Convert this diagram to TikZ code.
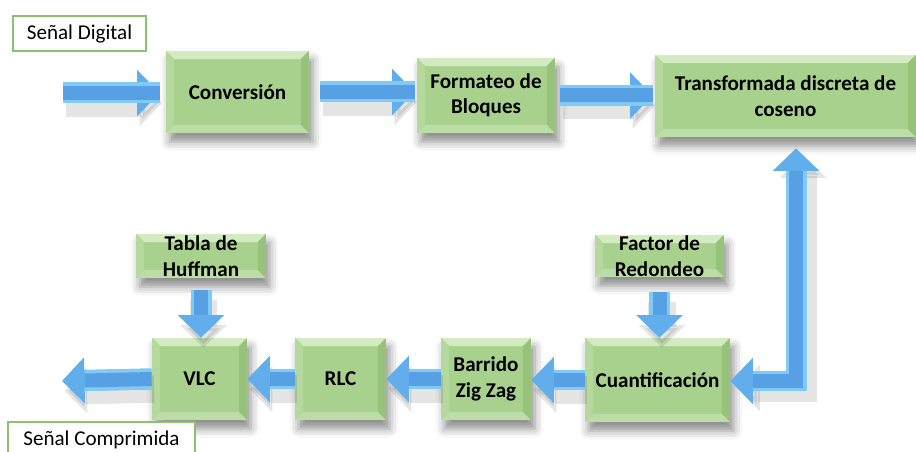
\documentclass[tikz,border=0pt]{standalone}
\usepackage{fontspec}
\setmainfont{Carlito}
\usetikzlibrary{arrows.meta,shadows.blur}

\definecolor{verdebloque}{HTML}{A9D18E}
\definecolor{biselsup}{HTML}{D3EBC0}
\definecolor{biselinf}{HTML}{BCDDA5}
\definecolor{biselizq}{HTML}{B5D99C}
\definecolor{biselder}{HTML}{96C27A}
\definecolor{verdeborde}{HTML}{8CC26C}
\definecolor{azulflecha}{HTML}{62AEEC}
\definecolor{azuloscuro}{HTML}{57A0E4}
\definecolor{azulclaro}{HTML}{80CBF6}

\newcommand{\anchobisel}{0.16cm}
\newcommand{\bisel}{%
  \path (path picture bounding box.north west) coordinate (bNW)
        (path picture bounding box.north east) coordinate (bNE)
        (path picture bounding box.south west) coordinate (bSW)
        (path picture bounding box.south east) coordinate (bSE);
  \fill[biselsup] (bNW) -- (bNE) -- ([shift={(-\anchobisel,-\anchobisel)}]bNE) -- ([shift={(\anchobisel,-\anchobisel)}]bNW) -- cycle;
  \fill[biselinf] (bSW) -- (bSE) -- ([shift={(-\anchobisel,\anchobisel)}]bSE) -- ([shift={(\anchobisel,\anchobisel)}]bSW) -- cycle;
  \fill[biselizq] (bNW) -- (bSW) -- ([shift={(\anchobisel,\anchobisel)}]bSW) -- ([shift={(\anchobisel,-\anchobisel)}]bNW) -- cycle;
  \fill[biselder] (bNE) -- (bSE) -- ([shift={(-\anchobisel,\anchobisel)}]bSE) -- ([shift={(-\anchobisel,-\anchobisel)}]bNE) -- cycle;
}

\tikzset{
  bloque/.style={rectangle, fill=verdebloque, inner sep=0pt, align=center,
    font=\fontsize{12}{14.5}\selectfont\bfseries,
    blur shadow={shadow xshift=2pt, shadow yshift=-5pt, shadow blur radius=5pt, shadow opacity=45},
    path picture={\bisel}},
  etiqueta/.style={rectangle, draw=verdeborde, line width=0.8pt, fill=white, inner sep=0pt,
    font=\fontsize{12}{14}\selectfont},
  flecha/.style={line width=0.42cm, draw=azulflecha, -{Triangle[width=0.9cm,length=0.45cm]}},
  brillo/.style={line width=0.07cm, draw=azulclaro, double=azuloscuro, double distance=0.28cm, shorten >=0.45cm},
  sombra/.style={draw=black, opacity=0.1},
}

% une dos nodos con una flecha gruesa
\newcommand{\conecta}[3][]{%
  \draw[flecha,sombra,line width=0.55cm,transform canvas={shift={(0.05cm,-0.2cm)}},#1] #2 -- #3;
  \draw[flecha,#1] #2 -- #3;
  \draw[brillo,#1] #2 -- #3;
}

\begin{document}
\begin{tikzpicture}[x=0.02cm,y=-0.02cm]
  \useasboundingbox (0,0) rectangle (916,452);

  \node[etiqueta, minimum width=2.66cm, minimum height=0.7cm] (sdig) at (79.5,33.5) {Señal Digital};

  \node[bloque, minimum width=2.86cm, minimum height=1.64cm] (conv) at (237.5,92) {Conversión};
  \node[bloque, minimum width=2.76cm, minimum height=1.5cm] (form) at (486,95.5) {Formateo de\\Bloques};
  \node[bloque, minimum width=5.22cm, minimum height=1.64cm] (dct) at (785.5,96) {Transformada discreta de\\coseno};

  \node[bloque, minimum width=2.58cm, minimum height=0.84cm] (factor) at (659.5,256) {Factor de\\Redondeo};
  \node[bloque, minimum width=2.9cm, minimum height=1.68cm] (cuant) at (657.5,380) {Cuantificación};
  \node[bloque, minimum width=1.8cm, minimum height=1.64cm] (barrido) at (486,379) {Barrido\\Zig Zag};
  \node[bloque, minimum width=1.82cm, minimum height=1.64cm] (rlc) at (340.5,379) {RLC};
  \node[bloque, minimum width=1.9cm, minimum height=1.64cm] (vlc) at (199.5,379) {VLC};
  \node[bloque, minimum width=2.6cm, minimum height=0.88cm] (tabla) at (201,256) {Tabla de\\Huffman};

  \node[etiqueta, minimum width=3.74cm, minimum height=0.72cm] (scomp) at (101.5,440) {Señal Comprimida};

  \coordinate (entrada) at (63,93);
  \coordinate (salida) at (62,381);
  \coordinate (codo) at (796,381);

  \conecta[shorten >=0.12cm]{(entrada)}{(entrada -| conv.west)}
  \conecta[shorten <=0.22cm, shorten >=0.04cm]{(conv.east)}{(conv.east -| form.west)}
  \conecta[shorten <=0.1cm, shorten >=0.04cm]{(form.east)}{(form.east -| dct.west)}

  \draw[flecha,sombra,line width=0.55cm,{Triangle[width=0.9cm,length=0.45cm]}-{Triangle[width=0.9cm,length=0.45cm]},
    shorten <=0.22cm, transform canvas={shift={(0.14cm,-0.14cm)}}] (dct.south -| codo) -- (codo) -- (codo -| cuant.east);
  \draw[flecha,{Triangle[width=0.9cm,length=0.45cm]}-{Triangle[width=0.9cm,length=0.45cm]},
    shorten <=0.22cm] (dct.south -| codo) -- (codo) -- (codo -| cuant.east);
  \draw[brillo,shorten <=0.67cm] (dct.south -| codo) -- (codo) -- (codo -| cuant.east);

  \conecta[shorten <=0.3cm]{(factor.south)}{(factor.south |- cuant.north)}
  \conecta[shorten <=0.24cm]{(tabla.south)}{(tabla.south |- vlc.north)}

  \conecta{(cuant.west)}{(cuant.west -| barrido.east)}
  \conecta{(barrido.west)}{(barrido.west -| rlc.east)}
  \conecta{(rlc.west)}{(rlc.west -| vlc.east)}
  \conecta{(vlc.west)}{(salida)}
\end{tikzpicture}
\end{document}
